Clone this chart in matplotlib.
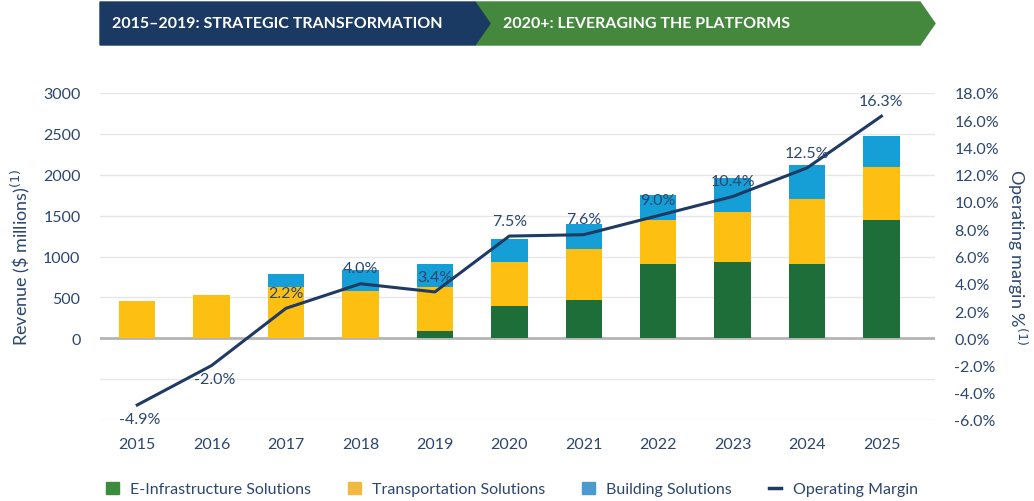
import numpy as np
import matplotlib
matplotlib.use("Agg")
import matplotlib.pyplot as plt
from matplotlib.patches import Polygon, Patch
from matplotlib.lines import Line2D

plt.rcParams['font.family'] = ['Lato', 'DejaVu Sans']

# data
years = ['2015', '2016', '2017', '2018', '2019', '2020', '2021', '2022', '2023', '2024', '2025']
e_infra = [0, 0, 0, 0, 90, 400, 470, 905, 935, 905, 1450]
transport = [450, 525, 630, 580, 540, 535, 620, 545, 615, 795, 640]
building = [0, 0, 155, 250, 280, 280, 305, 305, 410, 415, 385]
op_margin = [-4.9, -2.0, 2.2, 4.0, 3.4, 7.5, 7.6, 9.0, 10.4, 12.5, 16.3]

NAVY = '#1f3a63'
TXT = '#2b4670'
GREEN = '#1e6e3a'
YELLOW = '#fdc012'
BLUE = '#159fd6'

W, H = 1034, 502
fig = plt.figure(figsize=(W / 100, H / 100), dpi=100)
ax = fig.add_axes([100 / W, 1 - 421 / H, 835 / W, 327 / H])
ax2 = ax.twinx()

x = np.arange(len(years))
bw = 0.49
e_infra = np.array(e_infra)
transport = np.array(transport)
building = np.array(building)
ax.bar(x, e_infra, bw, color=GREEN, zorder=3)
ax.bar(x, transport, bw, bottom=e_infra, color=YELLOW, zorder=3)
ax.bar(x, building, bw, bottom=e_infra + transport, color=BLUE, zorder=3)

ax.set_ylim(-1000, 3000)
ax.set_xlim(-0.5, 10.72)
ax.set_yticks([-1000, -500, 0, 500, 1000, 1500, 2000, 2500, 3000])
ax.set_yticklabels(['', '', '0', '500', '1000', '1500', '2000', '2500', '3000'])
ax.set_xticks(x)
ax.set_xticklabels(years)
ax.grid(axis='y', color='#e6e6e6', lw=1, zorder=0)
ax.axhline(0, color='#b4b4b4', lw=2, zorder=2)
ax.tick_params(length=0, labelsize=11.5, colors=TXT, pad=12)
ax.tick_params(axis='y', pad=14)
for s in ax.spines.values():
    s.set_visible(False)
ax.set_ylabel('Revenue (\\$ millions)$^{(1)}$', color=TXT, fontsize=13, labelpad=8)

ax2.plot(x, op_margin, color=NAVY, lw=2.2, zorder=5)
ax2.set_ylim(-6, 18)
ax2.set_yticks(np.arange(-6, 19, 2))
ax2.set_yticklabels(['%.1f%%' % v for v in np.arange(-6, 19, 2)])
ax2.tick_params(length=0, labelsize=11.5, colors=TXT, pad=14)
for s in ax2.spines.values():
    s.set_visible(False)
ax2.set_ylabel('Operating margin %$^{(1)}$', color=TXT, fontsize=13, rotation=270, labelpad=22)

for i, v in enumerate(op_margin):
    if v < 0:
        ax2.annotate('%.1f%%' % v, (i, v), xytext=(2, -10), textcoords='offset points',
                     ha='center', va='center', fontsize=11.5, color=TXT, zorder=6)
    else:
        ax2.annotate('%.1f%%' % v, (i, v), xytext=(0, 11), textcoords='offset points',
                     ha='center', va='center', fontsize=11.5, color=TXT, zorder=6)

# banner
def fc(px, py):
    return (px / W, 1 - py / H)

navy_pts = [fc(100, 3), fc(475, 3), fc(490, 24.5), fc(475, 46), fc(100, 46)]
green_pts = [fc(475, 3), fc(920, 3), fc(935, 24.5), fc(920, 46), fc(475, 46), fc(490, 24.5)]
fig.patches.append(Polygon(green_pts, closed=True, transform=fig.transFigure, color='#44883e'))
fig.patches.append(Polygon(navy_pts, closed=True, transform=fig.transFigure, color='#1b3a63'))
fig.text(112 / W, 1 - 24.5 / H, '2015\u20132019: STRATEGIC TRANSFORMATION', color='white',
         fontsize=11.5, fontweight='bold', va='center', ha='left')
fig.text(503 / W, 1 - 24.5 / H, '2020+: LEVERAGING THE PLATFORMS', color='white',
         fontsize=11.5, fontweight='bold', va='center', ha='left')

handles = [Patch(color='#3d8b3d', label='E-Infrastructure Solutions'),
           Patch(color='#f0b942', label='Transportation Solutions'),
           Patch(color='#4a9ad0', label='Building Solutions'),
           Line2D([0], [0], color=NAVY, lw=2.5, label='Operating Margin')]
leg = fig.legend(handles=handles, loc='center', bbox_to_anchor=(512 / W, 1 - 490 / H), ncol=4,
                 frameon=False, fontsize=11.5, handlelength=0.8, handleheight=0.8,
                 columnspacing=2.3, handletextpad=0.7)
for t in leg.get_texts():
    t.set_color(TXT)

fig.savefig('out.png', dpi=100)
